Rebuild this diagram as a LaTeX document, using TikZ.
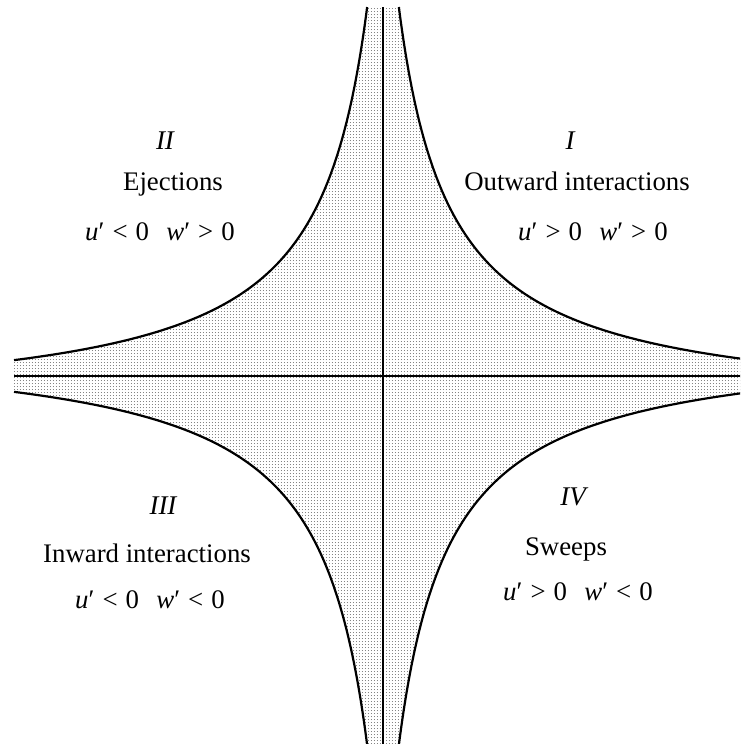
\documentclass[tikz,border=0pt]{standalone}
\usepackage{fontspec}
\setmainfont{Liberation Serif}
\usetikzlibrary{patterns.meta}
\tikzdeclarepattern{
  name=finedots,
  type=uncolored,
  bounding box={(0pt,0pt) and (3.3pt,3.3pt)},
  tile size={(3.3pt,3.3pt)},
  code={\pgfpathcircle{\pgfpoint{1.65pt}{1.65pt}}{0.55pt}\pgfusepath{fill}}
}
\newcommand{\cond}[2]{\textit{u}′\hspace{0.3em}#1\hspace{0.3em}0\hspace{0.65em}\textit{w}′\hspace{0.3em}#2\hspace{0.3em}0}
\begin{document}
\begin{tikzpicture}[x=10pt,y=10pt,
  curve/.style={line width=2.2pt, line join=round},
  axis/.style={line width=2.6pt},
  lbl/.style={font=\fontsize{26.8}{30}\selectfont, inner sep=0pt, text height=0.68em, text depth=0.2em},
  roman/.style={lbl, font=\fontsize{27}{30}\selectfont\itshape}]
\useasboundingbox (-38.3,-36.8) rectangle (35.7,37.6);
\clip (-38.3,-36.8) rectangle (35.7,37.6);
\def\K{14.491}
\def\A{1.0278}
% shaded region between the four hyperbolic branches
\fill[pattern=finedots, pattern color=black!85]
  plot[domain=-\A:\A, samples=120, variable=\t] ({\K*exp(\t)-3.6},{\K*exp(-\t)-3.6})
  -- plot[domain=-\A:\A, samples=120, variable=\t] ({\K*exp(-\t)-3.6},{3.6-\K*exp(\t)})
  -- plot[domain=-\A:\A, samples=120, variable=\t] ({3.6-\K*exp(\t)},{3.6-\K*exp(-\t)})
  -- plot[domain=-\A:\A, samples=120, variable=\t] ({3.6-\K*exp(-\t)},{\K*exp(\t)-3.6})
  -- cycle;
% boundary curves
\draw[curve] plot[domain=-\A:\A, samples=120, variable=\t] ({\K*exp(\t)-3.6},{\K*exp(-\t)-3.6});
\draw[curve] plot[domain=-\A:\A, samples=120, variable=\t] ({\K*exp(-\t)-3.6},{3.6-\K*exp(\t)});
\draw[curve] plot[domain=-\A:\A, samples=120, variable=\t] ({3.6-\K*exp(\t)},{3.6-\K*exp(-\t)});
\draw[curve] plot[domain=-\A:\A, samples=120, variable=\t] ({3.6-\K*exp(-\t)},{\K*exp(\t)-3.6});
% axes
\coordinate (xl) at (-36.9,0);
\coordinate (xr) at (36.9,0);
\coordinate (yb) at (0,-36.9);
\coordinate (yt) at (0,36.9);
\draw[axis] (xl) -- (xr);
\draw[axis] (yb) -- (yt);
% labels
\node[roman] (q1) at (18.7,22.9) {I};
\node[lbl] (q1t) at (19.4,18.8) {Outward interactions};
\node[lbl] (q1c) at (21.0,13.8) {\cond{>}{>}};
\node[roman] (q2) at (-21.8,22.9) {II};
\node[lbl] (q2t) at (-21.0,18.8) {Ejections};
\node[lbl] (q2c) at (-22.3,13.8) {\cond{<}{>}};
\node[roman] (q3) at (-22.0,-13.6) {III};
\node[lbl] (q3t) at (-23.6,-18.4) {Inward interactions};
\node[lbl] (q3c) at (-23.3,-23.0) {\cond{<}{<}};
\node[roman] (q4) at (19.0,-12.7) {IV};
\node[lbl] (q4t) at (18.3,-17.7) {Sweeps};
\node[lbl] (q4c) at (19.5,-22.2) {\cond{>}{<}};
\end{tikzpicture}
\end{document}
